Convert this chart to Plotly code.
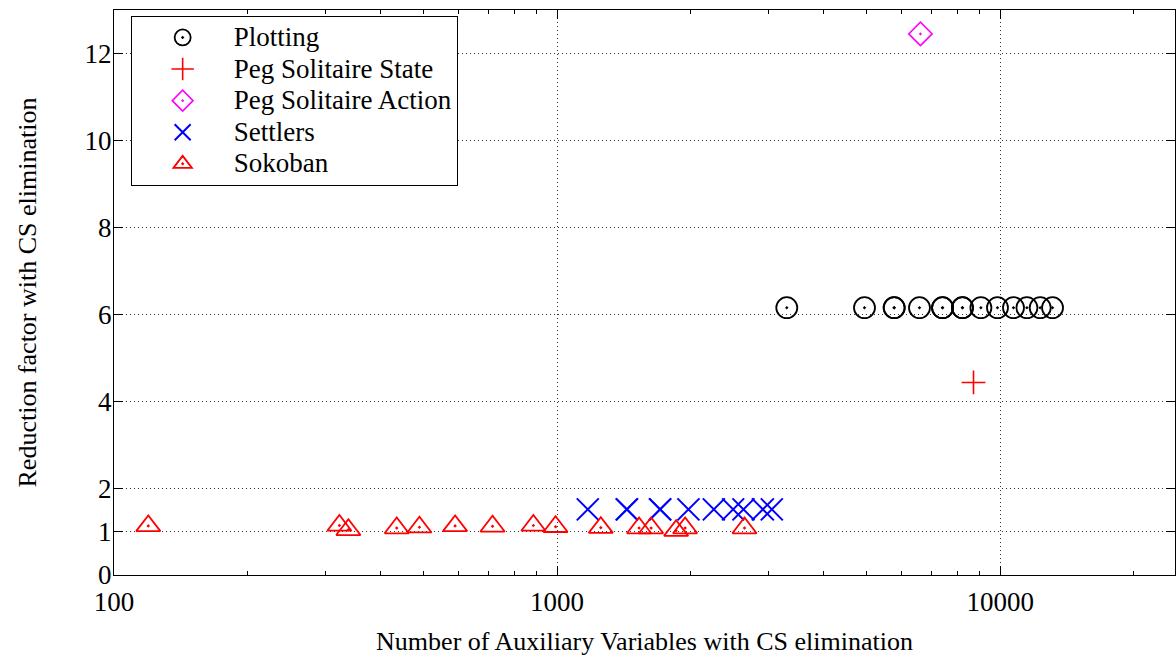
import plotly.graph_objects as go

# ---- data ----
plotting_x = [3299, 4940, 5764, 5764, 6574, 7411, 7411, 8220, 8220, 9046, 9860, 10715, 11489, 12311, 13125]
plotting_y = [6.15, 6.15, 6.15, 6.15, 6.15, 6.15, 6.15, 6.15, 6.15, 6.15, 6.15, 6.15, 6.15, 6.15, 6.15]

peg_state_x = [8705]
peg_state_y = [4.43]

peg_action_x = [6607]
peg_action_y = [12.45]

settlers_x = [1173, 1437, 1437, 1708, 1708, 1979, 2258, 2496, 2634, 2913, 3052]
settlers_y = [1.51, 1.51, 1.51, 1.51, 1.51, 1.51, 1.51, 1.51, 1.51, 1.51, 1.51]

sokoban_x = [119.5, 322.6, 338, 434.6, 489, 588.6, 715, 884, 992, 1255, 1531, 1630, 1856, 1945, 2648]
sokoban_y = [1.13, 1.14, 1.04, 1.08, 1.10, 1.13, 1.12, 1.14, 1.11, 1.09, 1.08, 1.08, 1.02, 1.08, 1.08]

series_names = ["Plotting", "Peg Solitaire State", "Peg Solitaire Action", "Settlers", "Sokoban"]

y_ticks = [0, 1, 2, 4, 6, 8, 10, 12]
x_ticks = [100, 1000, 10000]
x_tick_text = ["100", "1000", "10000"]

FONT = "Liberation Serif"


def legend_name(s):
    # larger rendered text while keeping the compact gnuplot-like row spacing
    return '<span style="font-size:27px">' + s + "</span>"


fig = go.Figure()

fig.add_trace(go.Scatter(
    x=plotting_x, y=plotting_y, mode="markers", name=legend_name(series_names[0]),
    marker=dict(symbol="circle-open-dot", size=21, color="black",
                line=dict(width=1.8, color="black"))))
fig.add_trace(go.Scatter(
    x=peg_state_x, y=peg_state_y, mode="markers", name=legend_name(series_names[1]),
    marker=dict(symbol="cross-thin-open", size=17, color="#ff0000",
                line=dict(width=1.6, color="#ff0000"))))
fig.add_trace(go.Scatter(
    x=peg_action_x, y=peg_action_y, mode="markers", name=legend_name(series_names[2]),
    marker=dict(symbol="diamond-open-dot", size=18, color="#ff00ff",
                line=dict(width=1.6, color="#ff00ff"))))
fig.add_trace(go.Scatter(
    x=settlers_x, y=settlers_y, mode="markers", name=legend_name(series_names[3]),
    marker=dict(symbol="x-thin-open", size=22, color="#0000ff",
                line=dict(width=2, color="#0000ff"))))
fig.add_trace(go.Scatter(
    x=sokoban_x, y=sokoban_y, mode="markers", name=legend_name(series_names[4]),
    marker=dict(symbol="triangle-up-open-dot", size=21, color="#ff0000",
                line=dict(width=1.8, color="#ff0000"))))

GRID_DASH = "1px,3px"

fig.update_layout(
    width=1176, height=657,
    margin=dict(l=114, r=1, t=10, b=82),
    paper_bgcolor="white", plot_bgcolor="white",
    font=dict(family=FONT, size=26, color="black"),
    showlegend=True,
    legend=dict(
        x=0.0157, y=0.99, xanchor="left", yanchor="top",
        bgcolor="white", bordercolor="black", borderwidth=1,
        font=dict(family=FONT, size=22, color="black"),
        itemwidth=92, tracegroupgap=0,
    ),
    xaxis=dict(
        type="log", range=[2, 4.3945],
        tickvals=x_ticks, ticktext=x_tick_text,
        ticks="inside", ticklen=9, tickwidth=1, tickcolor="black",
        showline=True, linecolor="black", linewidth=1, mirror="ticks",
        showgrid=True, gridcolor="#333333", griddash=GRID_DASH, gridwidth=1,
        zeroline=False, ticklabelstandoff=3,
        minor=dict(ticks="inside", ticklen=4, tickcolor="black", dtick="D1", showgrid=False),
        tickfont=dict(family=FONT, size=27),
        title=dict(text="Number of Auxiliary Variables with CS elimination",
                   font=dict(family=FONT, size=26), standoff=15),
    ),
    yaxis=dict(
        range=[0, 13],
        tickvals=y_ticks,
        ticks="inside", ticklen=9, tickwidth=1, tickcolor="black",
        showline=True, linecolor="black", linewidth=1, mirror="ticks",
        showgrid=True, gridcolor="#333333", griddash=GRID_DASH, gridwidth=1,
        zeroline=False, ticklabelstandoff=-4,
        tickfont=dict(family=FONT, size=27),
        title=dict(text="Reduction factor with CS elimination",
                   font=dict(family=FONT, size=26), standoff=40),
    ),
)

fig.write_html(
    "out.html",
    config={"displayModeBar": False},
    post_script="document.body.style.margin='0';document.body.style.overflow='hidden';",
)
